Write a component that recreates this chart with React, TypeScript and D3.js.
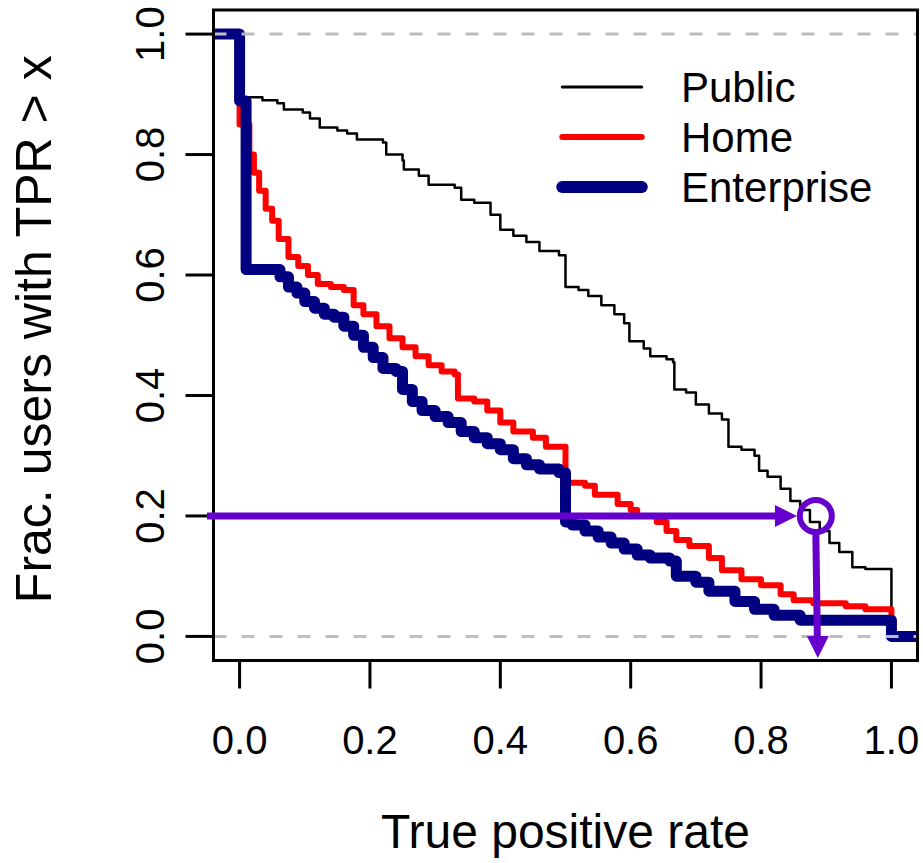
import React from "react";
import * as d3 from "d3";

const xTicks = [0, 0.2, 0.4, 0.6, 0.8, 1.0];
const yTicks = [0, 0.2, 0.4, 0.6, 0.8, 1.0];
const refLines = [0, 1];

const publicX = [-0.05, 0.0, 0.035, 0.058, 0.068, 0.097, 0.108, 0.123, 0.15, 0.165, 0.18, 0.22, 0.225, 0.25, 0.252, 0.275, 0.29, 0.33, 0.34, 0.36, 0.385, 0.40, 0.42, 0.44, 0.46, 0.49, 0.50, 0.52, 0.535, 0.555, 0.575, 0.59, 0.598, 0.62, 0.63, 0.655, 0.665, 0.667, 0.685, 0.70, 0.72, 0.74, 0.75, 0.77, 0.79, 0.797, 0.81, 0.83, 0.845, 0.86, 0.875, 0.89, 0.905, 0.92, 0.94, 0.96, 1.0, 1.06];
const publicY = [1.0, 0.895, 0.89, 0.885, 0.875, 0.87, 0.86, 0.845, 0.84, 0.835, 0.825, 0.82, 0.80, 0.79, 0.775, 0.765, 0.75, 0.745, 0.725, 0.72, 0.70, 0.675, 0.665, 0.655, 0.64, 0.633, 0.58, 0.575, 0.565, 0.55, 0.535, 0.52, 0.49, 0.478, 0.465, 0.46, 0.455, 0.41, 0.405, 0.385, 0.37, 0.36, 0.315, 0.31, 0.30, 0.275, 0.265, 0.245, 0.225, 0.21, 0.19, 0.175, 0.155, 0.14, 0.115, 0.112, 0.0, 0.0];

const homeX = [-0.05, 0.0, 0.015, 0.022, 0.03, 0.04, 0.05, 0.06, 0.075, 0.09, 0.105, 0.12, 0.14, 0.16, 0.175, 0.19, 0.21, 0.23, 0.25, 0.27, 0.29, 0.31, 0.33, 0.335, 0.36, 0.38, 0.40, 0.42, 0.45, 0.47, 0.50, 0.53, 0.545, 0.58, 0.60, 0.61, 0.64, 0.655, 0.67, 0.69, 0.72, 0.74, 0.77, 0.80, 0.83, 0.85, 0.88, 0.93, 0.96, 1.0, 1.06];
const homeY = [1.0, 0.85, 0.80, 0.77, 0.74, 0.71, 0.69, 0.66, 0.63, 0.615, 0.60, 0.585, 0.58, 0.575, 0.55, 0.535, 0.515, 0.495, 0.48, 0.465, 0.45, 0.44, 0.435, 0.395, 0.39, 0.375, 0.355, 0.34, 0.33, 0.315, 0.255, 0.25, 0.235, 0.22, 0.21, 0.20, 0.19, 0.175, 0.16, 0.15, 0.13, 0.11, 0.095, 0.085, 0.07, 0.06, 0.055, 0.05, 0.045, 0.0, 0.0];

const enterpriseX = [-0.05, 0.0, 0.01, 0.062, 0.075, 0.088, 0.10, 0.115, 0.13, 0.145, 0.16, 0.175, 0.19, 0.205, 0.22, 0.24, 0.25, 0.265, 0.28, 0.30, 0.32, 0.34, 0.36, 0.38, 0.40, 0.42, 0.44, 0.46, 0.49, 0.50, 0.51, 0.53, 0.55, 0.57, 0.59, 0.61, 0.63, 0.66, 0.67, 0.70, 0.72, 0.76, 0.79, 0.82, 0.86, 1.0, 1.06];
const enterpriseY = [1.0, 0.889, 0.609, 0.597, 0.58, 0.57, 0.556, 0.545, 0.535, 0.53, 0.515, 0.50, 0.48, 0.463, 0.445, 0.44, 0.41, 0.39, 0.375, 0.365, 0.355, 0.34, 0.33, 0.32, 0.31, 0.295, 0.285, 0.278, 0.272, 0.19, 0.185, 0.175, 0.165, 0.155, 0.145, 0.135, 0.13, 0.125, 0.10, 0.09, 0.075, 0.058, 0.045, 0.035, 0.027, 0.0, 0.0];

const seriesNames = ["Public", "Home", "Enterprise"];
const seriesColors = ["#000000", "#FF0000", "#000080"];
const seriesWidths = [2.5, 6, 11];
const legendWidths = [3, 6, 12];

// annotation: user at TPR threshold
const annotPoint = [0.884, 0.2];
const annotStartX = -0.05;
const annotTipX = 0.855;
const annotTipY = -0.036;

const W = 923;
const H = 863;
const left = 213.5, right = 917.5, top = 10, bottom = 660.5;
const FONT = "'Liberation Sans', Arial, Helvetica, sans-serif";
const PURPLE = "#6600CC";

export default function App() {
  const x = d3.scaleLinear().domain([-0.04, 1.04]).range([left, right]);
  const y = d3.scaleLinear().domain([-0.04, 1.04]).range([bottom, top]);
  const line = d3
    .line<[number, number]>()
    .x((d) => x(d[0]))
    .y((d) => y(d[1]))
    .curve(d3.curveStepAfter);

  const series = [
    publicX.map((v, i) => [v, publicY[i]] as [number, number]),
    homeX.map((v, i) => [v, homeY[i]] as [number, number]),
    enterpriseX.map((v, i) => [v, enterpriseY[i]] as [number, number]),
  ];

  const cx = x(annotPoint[0]);
  const cy = y(annotPoint[1]);
  const r = 16;
  const hx1 = x(annotStartX);
  const hTip = x(annotTipX);
  const vTip = y(annotTipY);
  const ah = 22;
  const aw = 11;

  const legendX1 = x(0.495);
  const legendX2 = x(0.617);
  const legendTextX = 681;
  const legendYs = [87, 137, 187];

  return (
    <svg
      width={W}
      height={H}
      style={{ position: "absolute", left: 0, top: 0, background: "#fff" }}
      fontFamily={FONT}
    >
      <defs>
        <clipPath id="plotClip">
          <rect x={left} y={top} width={right - left} height={bottom - top} />
        </clipPath>
      </defs>
      <rect x={0} y={0} width={W} height={H} fill="#fff" />

      <g clipPath="url(#plotClip)">
        {series.map((s, i) => (
          <path
            key={seriesNames[i]}
            d={line(s) || ""}
            fill="none"
            stroke={seriesColors[i]}
            strokeWidth={seriesWidths[i]}
            strokeLinejoin="round"
            strokeLinecap="butt"
          />
        ))}
        {refLines.map((v) => (
          <line
            key={v}
            x1={left}
            x2={right}
            y1={y(v)}
            y2={y(v)}
            stroke="#BEBEBE"
            strokeWidth={3}
            strokeDasharray="13,15"
          />
        ))}
      </g>

      <rect
        x={left}
        y={top}
        width={right - left}
        height={bottom - top}
        fill="none"
        stroke="#000"
        strokeWidth={3}
      />

      {xTicks.map((t) => (
        <g key={"x" + t}>
          <line x1={x(t)} x2={x(t)} y1={bottom} y2={bottom + 28} stroke="#000" strokeWidth={3} />
          <text x={x(t)} y={754} textAnchor="middle" fontSize={40} fill="#000">
            {t.toFixed(1)}
          </text>
        </g>
      ))}
      {yTicks.map((t) => (
        <g key={"y" + t}>
          <line x1={left} x2={left - 28} y1={y(t)} y2={y(t)} stroke="#000" strokeWidth={3} />
          <text
            transform={`translate(164,${y(t)}) rotate(-90)`}
            textAnchor="middle"
            fontSize={40}
            fill="#000"
          >
            {t.toFixed(1)}
          </text>
        </g>
      ))}

      <text x={(left + right) / 2} y={848} textAnchor="middle" fontSize={48} fill="#000">
        True positive rate
      </text>
      <text
        transform={`translate(51,${(top + bottom) / 2 - 6}) rotate(-90)`}
        textAnchor="middle"
        fontSize={50}
        fill="#000"
      >
        Frac. users with TPR &gt; x
      </text>

      {seriesNames.map((n, i) => (
        <g key={"lg" + n}>
          <line
            x1={legendX1}
            x2={legendX2}
            y1={legendYs[i]}
            y2={legendYs[i]}
            stroke={seriesColors[i]}
            strokeWidth={legendWidths[i]}
            strokeLinecap="round"
          />
          <text x={legendTextX} y={legendYs[i] + 15} fontSize={42} fill="#000">
            {n}
          </text>
        </g>
      ))}

      <line x1={hx1} x2={hTip - ah + 2} y1={cy} y2={cy} stroke={PURPLE} strokeWidth={7} />
      <path
        d={`M${hTip},${cy} L${hTip - ah},${cy - aw} L${hTip - ah},${cy + aw} Z`}
        fill={PURPLE}
      />
      <circle cx={cx} cy={cy} r={r} fill="none" stroke={PURPLE} strokeWidth={6} />
      <line x1={cx} x2={cx + 1.5} y1={cy + r} y2={vTip - ah + 2} stroke={PURPLE} strokeWidth={7} />
      <path
        d={`M${cx + 2},${vTip} L${cx + 2 - aw},${vTip - ah} L${cx + 2 + aw},${vTip - ah} Z`}
        fill={PURPLE}
      />
    </svg>
  );
}
